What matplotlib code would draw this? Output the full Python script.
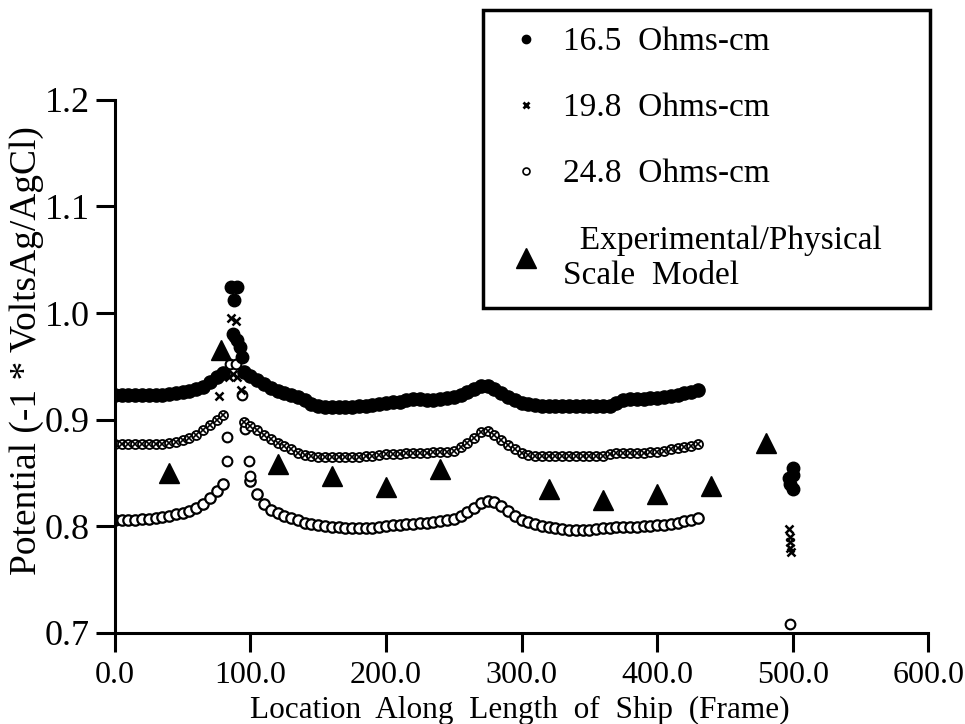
import matplotlib
matplotlib.use("Agg")
import matplotlib.pyplot as plt
import numpy as np
from matplotlib.lines import Line2D

plt.rcParams["font.family"] = ["Liberation Serif", "DejaVu Serif"]

# Data
frames = np.arange(0, 435, 5)
nan = np.nan

pot_165 = [
    0.923, 0.923, 0.923, 0.923, 0.923, 0.923, 0.923, 0.923, 0.924, 0.925,
    0.926, 0.927, 0.929, 0.931, 0.935, 0.940, 0.944, nan, nan, 0.945,
    0.941, 0.937, 0.933, 0.930, 0.927, 0.925, 0.923, 0.921, 0.918, 0.915,
    0.913, 0.912, 0.912, 0.912, 0.912, 0.912, 0.913, 0.913, 0.914, 0.915,
    0.916, 0.917, 0.917, 0.918, 0.919, 0.919, 0.918, 0.918, 0.919, 0.920,
    0.921, 0.923, 0.926, 0.929, 0.932, 0.932, 0.929, 0.925, 0.921, 0.918,
    0.916, 0.915, 0.914, 0.913, 0.913, 0.913, 0.913, 0.913, 0.913, 0.913,
    0.913, 0.913, 0.913, 0.913, 0.916, 0.918, 0.919, 0.919, 0.919, 0.920,
    0.920, 0.921, 0.922, 0.923, 0.925, 0.926, 0.928,
]
pot_198 = [
    0.877, 0.877, 0.877, 0.877, 0.877, 0.877, 0.877, 0.877, 0.878, 0.879,
    0.881, 0.883, 0.886, 0.890, 0.895, 0.900, 0.904, nan, nan, 0.898,
    0.894, 0.890, 0.886, 0.882, 0.878, 0.875, 0.872, 0.869, 0.867, 0.866,
    0.865, 0.865, 0.865, 0.865, 0.865, 0.865, 0.865, 0.866, 0.866, 0.867,
    0.868, 0.868, 0.868, 0.869, 0.869, 0.869, 0.869, 0.870, 0.870, 0.870,
    0.871, 0.874, 0.878, 0.883, 0.888, 0.889, 0.886, 0.881, 0.876, 0.872,
    0.869, 0.867, 0.866, 0.866, 0.866, 0.866, 0.866, 0.866, 0.866, 0.866,
    0.866, 0.866, 0.866, 0.868, 0.869, 0.869, 0.869, 0.869, 0.869, 0.870,
    0.870, 0.871, 0.872, 0.873, 0.874, 0.875, 0.877,
]
pot_248 = [
    0.806, 0.806, 0.806, 0.806, 0.807, 0.807, 0.808, 0.809, 0.810, 0.811,
    0.812, 0.814, 0.817, 0.821, 0.826, 0.833, 0.840, nan, nan, nan,
    0.842, 0.830, 0.821, 0.815, 0.812, 0.810, 0.808, 0.806, 0.803, 0.802,
    0.801, 0.800, 0.799, 0.799, 0.798, 0.798, 0.798, 0.798, 0.798, 0.799,
    0.800, 0.801, 0.801, 0.802, 0.802, 0.803, 0.803, 0.804, 0.805, 0.806,
    0.807, 0.810, 0.813, 0.817, 0.822, 0.824, 0.823, 0.819, 0.814, 0.810,
    0.806, 0.804, 0.802, 0.800, 0.799, 0.798, 0.797, 0.796, 0.796, 0.796,
    0.796, 0.797, 0.798, 0.798, 0.799, 0.799, 0.799, 0.799, 0.800, 0.800,
    0.801, 0.801, 0.802, 0.803, 0.805, 0.806, 0.808,
]

# scattered readings near the bow peak and at frame ~500
extra_165_x = [86, 90, 88, 87, 90, 92, 94, 497, 500, 500, 498, 500]
extra_165_y = [1.024, 1.024, 1.012, 0.980, 0.975, 0.968, 0.959,
               0.845, 0.855, 0.848, 0.840, 0.835]
extra_198_x = [86, 89, 84, 87, 90, 77, 93, 497, 498, 498, 498, 499]
extra_198_y = [0.995, 0.993, 0.940, 0.943, 0.940, 0.922, 0.928,
               0.797, 0.790, 0.785, 0.780, 0.776]
extra_248_x = [88, 85, 89, 94, 83, 96, 83, 99, 100, 498]
extra_248_y = [0.978, 0.952, 0.952, 0.923, 0.884, 0.891, 0.861, 0.861, 0.847, 0.708]

exp_x = [40, 78, 120, 160, 200, 240, 320, 360, 400, 440, 480]
exp_y = [0.850, 0.965, 0.858, 0.847, 0.837, 0.854, 0.835, 0.825, 0.830, 0.838, 0.878]

labels = ["16.5  Ohms-cm", "19.8  Ohms-cm", "24.8  Ohms-cm",
          "  Experimental/Physical\nScale  Model"]

fig = plt.figure(figsize=(9.65, 7.24), dpi=100)
ax = fig.add_axes([0.119, 0.126, 0.843, 0.736])

ax.plot(frames, pot_248, ls="none", marker="o", ms=7.5, mfc="white", mec="black", mew=1.6)
ax.plot(extra_248_x, extra_248_y, ls="none", marker="o", ms=7, mfc="white", mec="black", mew=1.5)
ax.plot(frames, pot_198, ls="none", marker="o", ms=6.5, mfc="white", mec="black", mew=1.3)
ax.plot(frames, pot_198, ls="none", marker="x", ms=4.5, mec="black", mew=1.2)
ax.plot(extra_198_x, extra_198_y, ls="none", marker="x", ms=5.5, mec="black", mew=1.8)
ax.plot(frames, pot_165, ls="none", marker="o", ms=9.5, color="black")
ax.plot(extra_165_x, extra_165_y, ls="none", marker="o", ms=9, color="black")
ax.plot(exp_x, exp_y, ls="none", marker="^", ms=15, color="black")

ax.set_xlim(0, 600)
ax.set_ylim(0.7, 1.2)
ax.set_xticks([0, 100, 200, 300, 400, 500, 600])
ax.set_xticklabels(["0.0", "100.0", "200.0", "300.0", "400.0", "500.0", "600.0"])
ax.set_yticks([0.7, 0.8, 0.9, 1.0, 1.1, 1.2])
ax.set_yticklabels(["0.7", "0.8", "0.9", "1.0", "1.1", "1.2"])

for side in ["top", "right"]:
    ax.spines[side].set_visible(False)
for side in ["left", "bottom"]:
    ax.spines[side].set_linewidth(2.2)
ax.tick_params(direction="out", length=14, width=2.2)
ax.tick_params(axis="x", labelsize=23, pad=6)
ax.tick_params(axis="y", labelsize=26, pad=4)

ax.set_xlabel("Location  Along  Length  of  Ship  (Frame)", fontsize=22.5)
ax.set_ylabel("Potential (-1 * VoltsAg/AgCl)", fontsize=27)
ax.xaxis.set_label_coords(0.498, -0.119)
ax.yaxis.set_label_coords(-0.087, 0.53)

handles = [
    Line2D([], [], ls="none", marker="o", ms=6, color="black"),
    Line2D([], [], ls="none", marker="x", ms=5, mec="black", mew=2),
    Line2D([], [], ls="none", marker="o", ms=5, mfc="white", mec="black", mew=1.2),
    Line2D([], [], ls="none", marker="^", ms=15, color="black"),
]
leg = ax.legend(handles, labels, loc="upper left", mode="expand",
                bbox_to_anchor=(483 / 965, 1 - 307 / 724, 447 / 965, 297 / 724),
                bbox_transform=fig.transFigure, borderaxespad=0,
                fontsize=24, labelspacing=1.07, handlelength=1.6, handletextpad=0.3,
                borderpad=0.5, fancybox=False, framealpha=1, edgecolor="black")
leg.get_frame().set_linewidth(2.5)

fig.savefig("out.png", dpi=100)
